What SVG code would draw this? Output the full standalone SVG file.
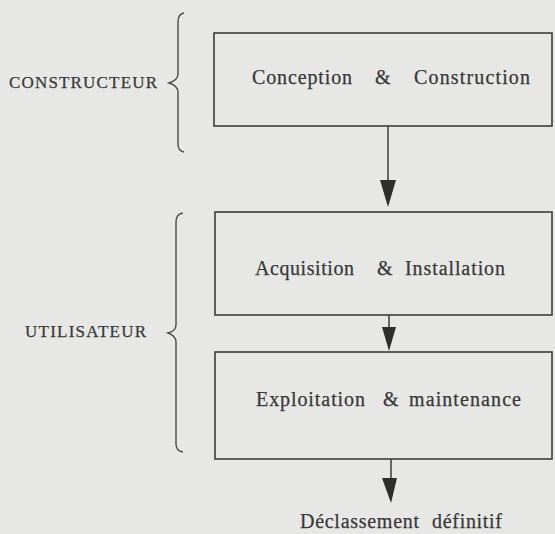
<svg xmlns="http://www.w3.org/2000/svg" width="555" height="534" viewBox="0 0 555 534">
<defs>
<style>
.bg{fill:#e7e7e5}
.box{fill:none;stroke:#3c3c3c;stroke-width:1.6}
.ln{fill:none;stroke:#3c3c3c;stroke-width:1.5}
.br{fill:none;stroke:#4a4a4a;stroke-width:1.4}
.hd{fill:#2e2e2e}
text{font-family:"Liberation Serif","Times New Roman",serif;font-size:20px;fill:#383838;stroke:#383838;stroke-width:0.25}
.side{font-size:17px}
</style>
</defs>
<rect class="bg" x="0" y="0" width="555" height="534"/>
<g id="constructeur">
<path class="br" d="M184,13 Q178,14 178,22 L178,74 Q178,80 169,83 Q178,86 178,92 L178,144 Q178,151 184,152"/>
<text class="side" x="9" y="88" textLength="148" lengthAdjust="spacing">CONSTRUCTEUR</text>
</g>
<g id="utilisateur">
<path class="br" d="M183,213 Q176,214 176,222 L176,325 Q176,331 168,333 Q176,336 176,342 L176,444 Q176,451 183,452"/>
<text class="side" x="25" y="337" textLength="121" lengthAdjust="spacing">UTILISATEUR</text>
</g>
<g id="conception">
<rect class="box" x="214" y="33" width="338" height="93"/>
<text y="84"><tspan x="252" textLength="100" lengthAdjust="spacing">Conception</tspan><tspan x="375">&amp;</tspan><tspan x="414" textLength="116" lengthAdjust="spacing">Construction</tspan></text>
</g>
<g id="acquisition">
<rect class="box" x="215" y="212" width="337" height="103"/>
<text y="275"><tspan x="255" textLength="99" lengthAdjust="spacing">Acquisition</tspan><tspan x="377">&amp;</tspan><tspan x="405" textLength="100" lengthAdjust="spacing">Installation</tspan></text>
</g>
<g id="exploitation">
<rect class="box" x="215" y="352" width="337" height="107"/>
<text y="406"><tspan x="256" textLength="109" lengthAdjust="spacing">Exploitation</tspan><tspan x="383">&amp;</tspan><tspan x="409" textLength="112" lengthAdjust="spacing">maintenance</tspan></text>
</g>
<g id="declassement">
<text y="528"><tspan x="300" textLength="119" lengthAdjust="spacing">Déclassement</tspan><tspan x="432" textLength="70" lengthAdjust="spacing">définitif</tspan></text>
</g>
<g id="connectors">
<line class="ln" x1="388" y1="126" x2="388" y2="200"/>
<polygon class="hd" points="380,180 396,180 388,207"/>
<line class="ln" x1="389" y1="315" x2="389" y2="345"/>
<polygon class="hd" points="382,327 396,327 389,351"/>
<line class="ln" x1="391" y1="459" x2="391" y2="495"/>
<polygon class="hd" points="382,478 397,478 391,503"/>
</g>
</svg>
